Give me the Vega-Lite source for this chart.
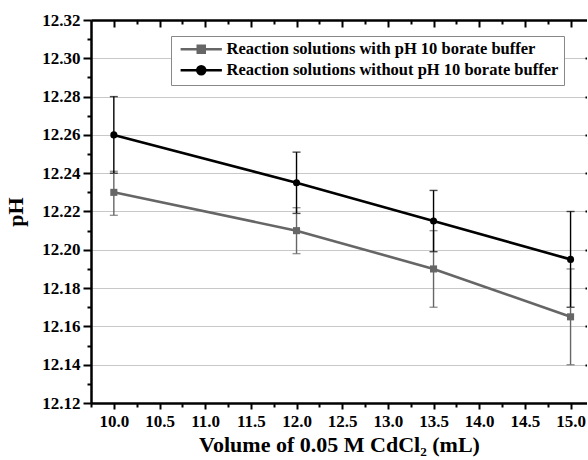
{
  "$schema": "https://vega.github.io/schema/vega-lite/v6.json",
  "autosize": {"type": "none"},
  "padding": {"left": 91, "top": 20, "right": 0, "bottom": 57},
  "width": 496,
  "height": 383,
  "background": "white",
  "config": {
    "font": "Liberation Serif",
    "view": {"stroke": null},
    "axis": {"labelFont": "Liberation Serif", "titleFont": "Liberation Serif", "labelFontWeight": "bold", "titleFontWeight": "bold", "labelColor": "#000", "titleColor": "#000", "tickColor": "#000", "domainColor": "#000"},
    "legend": {"labelFont": "Liberation Serif", "labelFontWeight": "bold"}
  },
  "data": {
    "values": [
      {"vol": 10.0, "pH": 12.23, "lo": 12.218, "hi": 12.241, "series": "Reaction solutions with pH 10 borate buffer"},
      {"vol": 12.0, "pH": 12.21, "lo": 12.198, "hi": 12.222, "series": "Reaction solutions with pH 10 borate buffer"},
      {"vol": 13.5, "pH": 12.19, "lo": 12.17, "hi": 12.21, "series": "Reaction solutions with pH 10 borate buffer"},
      {"vol": 15.0, "pH": 12.165, "lo": 12.14, "hi": 12.19, "series": "Reaction solutions with pH 10 borate buffer"},
      {"vol": 10.0, "pH": 12.26, "lo": 12.24, "hi": 12.28, "series": "Reaction solutions without pH 10 borate buffer"},
      {"vol": 12.0, "pH": 12.235, "lo": 12.219, "hi": 12.251, "series": "Reaction solutions without pH 10 borate buffer"},
      {"vol": 13.5, "pH": 12.215, "lo": 12.199, "hi": 12.231, "series": "Reaction solutions without pH 10 borate buffer"},
      {"vol": 15.0, "pH": 12.195, "lo": 12.17, "hi": 12.22, "series": "Reaction solutions without pH 10 borate buffer"}
    ]
  },
  "resolve": {"axis": {"x": "independent", "y": "independent"}},
  "layer": [
    {
      "mark": {"type": "point", "opacity": 0},
      "encoding": {
        "x": {"field": "vol", "type": "quantitative", "scale": {"domain": [9.75, 15.18], "nice": false, "zero": false},
          "axis": {"orient": "bottom", "values": [9.75, 10.25, 10.75, 11.25, 11.75, 12.25, 12.75, 13.25, 13.75, 14.25, 14.75], "tickSize": 4, "tickWidth": 2, "labels": false, "domain": false, "grid": false, "title": null}},
        "y": {"field": "pH", "type": "quantitative", "scale": {"domain": [12.12, 12.32], "nice": false, "zero": false},
          "axis": {"orient": "left", "values": [12.13, 12.15, 12.17, 12.19, 12.21, 12.23, 12.25, 12.27, 12.29, 12.31], "tickSize": 4, "tickWidth": 2, "labels": false, "domain": false, "grid": false, "title": null}}
      }
    },
    {
      "mark": {"type": "point", "opacity": 0},
      "encoding": {
        "x": {"field": "vol", "type": "quantitative", "scale": {"domain": [9.75, 15.18], "nice": false, "zero": false},
          "axis": {"orient": "top", "values": [10, 10.5, 11, 11.5, 12, 12.5, 13, 13.5, 14, 14.5, 15], "tickSize": -7, "tickWidth": 2, "labels": false, "domain": true, "domainWidth": 2.5, "grid": false, "title": null}},
        "y": {"field": "pH", "type": "quantitative", "scale": {"domain": [12.12, 12.32], "nice": false, "zero": false},
          "axis": {"orient": "right", "values": [12.14, 12.16, 12.18, 12.2, 12.22, 12.24, 12.26, 12.28, 12.3], "tickSize": -2, "tickWidth": 2, "labels": false, "domain": false, "grid": false, "title": null}}
      }
    },
    {
      "mark": {"type": "point", "opacity": 0},
      "encoding": {
        "x": {"field": "vol", "type": "quantitative", "scale": {"domain": [9.75, 15.18], "nice": false, "zero": false},
          "axis": {"orient": "top", "values": [10.25, 10.75, 11.25, 11.75, 12.25, 12.75, 13.25, 13.75, 14.25, 14.75], "tickSize": -4, "tickWidth": 2, "labels": false, "domain": false, "grid": false, "title": null}}
      }
    },
    {
      "mark": {"type": "line", "strokeWidth": 2.6},
      "encoding": {
        "x": {"field": "vol", "type": "quantitative", "scale": {"domain": [9.75, 15.18], "nice": false, "zero": false},
          "axis": {"orient": "bottom", "values": [10, 10.5, 11, 11.5, 12, 12.5, 13, 13.5, 14, 14.5, 15], "format": ".1f", "tickSize": 6, "tickWidth": 2, "domainWidth": 2.5, "labelFontSize": 17, "labelPadding": 4, "grid": false,
            "title": "Volume of 0.05 M CdCl₂ (mL)", "titleFontSize": 22, "titlePadding": 5}},
        "y": {"field": "pH", "type": "quantitative", "scale": {"domain": [12.12, 12.32], "nice": false, "zero": false},
          "axis": {"orient": "left", "values": [12.12, 12.14, 12.16, 12.18, 12.2, 12.22, 12.24, 12.26, 12.28, 12.3, 12.32], "format": ".2f", "tickSize": 8, "tickWidth": 2, "domainWidth": 2.5, "labelFontSize": 17, "labelPadding": 3, "grid": true, "gridColor": "#c8c8c8", "gridWidth": 1.2,
            "title": "pH", "titleFontSize": 22, "titlePadding": 14}},
        "color": {"field": "series", "type": "nominal",
          "scale": {"domain": ["Reaction solutions with pH 10 borate buffer", "Reaction solutions without pH 10 borate buffer"], "range": ["#666666", "#000000"]},
          "legend": {"title": null, "orient": "none", "legendX": 80, "legendY": 16, "labelFontSize": 16.5, "labelLimit": 500, "labelColor": "#000", "strokeColor": "#888888", "fillColor": "white", "padding": 5, "rowPadding": 3,
            "symbolSize": 49, "symbolOffset": 17, "labelOffset": 17, "symbolStrokeWidth": 2.5,
            "encode": {"symbols": {"update": {
              "shape": {"signal": "datum.value == 'Reaction solutions with pH 10 borate buffer' ? 'M-5.9,0H5.9M-1,-1H1V1H-1Z' : 'M-5.9,0H5.9M1.15,0A1.15,1.15,0,1,1,-1.15,0A1.15,1.15,0,1,1,1.15,0Z'"},
              "fill": {"signal": "datum.value == 'Reaction solutions with pH 10 borate buffer' ? '#666666' : '#000000'"},
              "stroke": {"signal": "datum.value == 'Reaction solutions with pH 10 borate buffer' ? '#666666' : '#000000'"},
              "strokeWidth": {"value": 2.5},
              "opacity": {"value": 1}
            }}}}
        }
      }
    },
    {
      "mark": {"type": "errorbar", "ticks": {"size": 8}, "thickness": 1.4},
      "encoding": {
        "x": {"field": "vol", "type": "quantitative", "axis": null},
        "y": {"field": "lo", "type": "quantitative", "axis": null},
        "y2": {"field": "hi"},
        "color": {"field": "series", "type": "nominal"}
      }
    },
    {
      "transform": [{"filter": "datum.series == 'Reaction solutions with pH 10 borate buffer'"}],
      "mark": {"type": "point", "filled": true, "size": 50, "opacity": 1, "shape": "square"},
      "encoding": {
        "x": {"field": "vol", "type": "quantitative", "axis": null},
        "y": {"field": "pH", "type": "quantitative", "axis": null},
        "color": {"field": "series", "type": "nominal"}
      }
    },
    {
      "transform": [{"filter": "datum.series == 'Reaction solutions without pH 10 borate buffer'"}],
      "mark": {"type": "point", "filled": true, "size": 50, "opacity": 1, "shape": "circle"},
      "encoding": {
        "x": {"field": "vol", "type": "quantitative", "axis": null},
        "y": {"field": "pH", "type": "quantitative", "axis": null},
        "color": {"field": "series", "type": "nominal"}
      }
    }
  ]
}
